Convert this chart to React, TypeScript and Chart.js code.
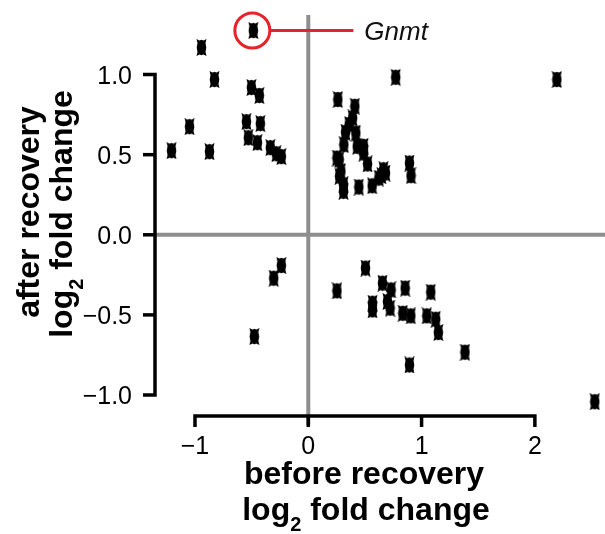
import React, { useEffect, useRef } from "react";
import { Chart, registerables } from "chart.js";

Chart.register(...registerables);

// before recovery log2 fold change (x) and after recovery log2 fold change (y)
const beforeRecovery = [
  -0.485, -0.943, -0.828, -1.048, -1.207, -0.872, -0.502, -0.432, -0.546, -0.423,
  -0.529, -0.449, -0.335, -0.282, -0.238,
  0.772, 0.261, 0.411, 0.391, 0.361, 0.329, 0.42, 0.314, 0.432, 0.488, 0.488,
  0.253, 0.273, 0.288, 0.276, 0.311, 0.311, 0.523, 0.446, 0.564, 0.623, 0.664,
  0.681, 0.646, 0.893, 0.907, 2.194,
  -0.238, -0.305, -0.476,
  0.253, 0.505, 0.655, 0.731, 0.855, 1.081, 0.567, 0.567, 0.699, 0.722, 0.834,
  0.905, 1.046, 1.125, 1.148, 1.383, 0.893, 2.529,
];
const afterRecovery = [
  1.275, 1.169, 0.969, 0.675, 0.525, 0.519, 0.919, 0.869, 0.706, 0.694,
  0.606, 0.575, 0.544, 0.506, 0.488,
  0.983, 0.844, 0.802, 0.729, 0.688, 0.64, 0.635, 0.5625, 0.552, 0.552, 0.51,
  0.479, 0.469, 0.396, 0.365, 0.3125, 0.271, 0.442, 0.298, 0.306, 0.354, 0.406,
  0.385, 0.369, 0.448, 0.369, 0.969,
  -0.192, -0.271, -0.635,
  -0.35, -0.208, -0.302, -0.344, -0.333, -0.358, -0.427, -0.469, -0.417, -0.458, -0.49,
  -0.506, -0.506, -0.527, -0.61, -0.733, -0.8125, -1.042,
];

const xTicks = [-1, 0, 1, 2];
const yTicks = [1.0, 0.5, 0.0, -0.5, -1.0];
const xTickLabels = ["\u22121", "0", "1", "2"];
const yTickLabels = ["1.0", "0.5", "0.0", "\u22120.5", "\u22121.0"];

const gnmtIndex = 0;
const gnmtLabel = "Gnmt";
const xTitle1 = "before recovery";
const yTitle1 = "after recovery";
const logTitle = ["log", "2", " fold change"];

const FONT = '"Liberation Sans", Arial, sans-serif';

function makeMarker(): HTMLCanvasElement {
  const c = document.createElement("canvas");
  c.width = 11;
  c.height = 17;
  const g = c.getContext("2d")!;
  g.fillStyle = "#000";
  g.beginPath();
  const pts = [
    [0.5, 0], [3.5, 1.6], [5.5, 0.8], [7.5, 1.6], [10.5, 0], [9.5, 4], [10.3, 8.5], [9.5, 13],
    [10.5, 17], [7.5, 15.4], [5.5, 16.2], [3.5, 15.4], [0.5, 17], [1.5, 13], [0.7, 8.5], [1.5, 4],
  ];
  pts.forEach(([px, py], i) => (i === 0 ? g.moveTo(px, py) : g.lineTo(px, py)));
  g.closePath();
  g.fill();
  return c;
}

function drawLogLine(ctx: CanvasRenderingContext2D, cx: number, baseline: number) {
  const big = `bold 32px ${FONT}`;
  const small = `bold 20px ${FONT}`;
  ctx.font = big;
  const w0 = ctx.measureText(logTitle[0]).width;
  const w2 = ctx.measureText(logTitle[2]).width;
  ctx.font = small;
  const w1 = ctx.measureText(logTitle[1]).width;
  let x = cx - (w0 + w1 + w2) / 2;
  ctx.textAlign = "left";
  ctx.textBaseline = "alphabetic";
  ctx.font = big;
  ctx.fillText(logTitle[0], x, baseline);
  x += w0;
  ctx.font = small;
  ctx.fillText(logTitle[1], x, baseline + 11);
  x += w1;
  ctx.font = big;
  ctx.fillText(logTitle[2], x, baseline);
}

const customPlugin = {
  id: "customAxes",
  beforeDatasetsDraw(chart: any) {
    const { ctx, chartArea } = chart;
    const xs = chart.scales.x;
    const ys = chart.scales.y;
    const x0 = xs.getPixelForValue(0);
    const y0 = ys.getPixelForValue(0);
    ctx.save();
    ctx.strokeStyle = "#8e8e8e";
    ctx.lineWidth = 4;
    ctx.beginPath();
    ctx.moveTo(x0, chartArea.top + 1);
    ctx.lineTo(x0, chartArea.bottom + 9);
    ctx.stroke();
    ctx.beginPath();
    ctx.moveTo(chartArea.left, y0);
    ctx.lineTo(chartArea.right, y0);
    ctx.stroke();
    ctx.restore();
  },
  afterDraw(chart: any) {
    const { ctx, chartArea } = chart;
    const xs = chart.scales.x;
    const ys = chart.scales.y;
    ctx.save();
    ctx.strokeStyle = "#000";
    ctx.fillStyle = "#000";
    ctx.lineWidth = 3.5;
    ctx.lineJoin = "miter";
    ctx.lineCap = "butt";

    // y axis
    const ax = chartArea.left;
    const yTop = ys.getPixelForValue(yTicks[0]);
    const yBot = ys.getPixelForValue(yTicks[yTicks.length - 1]);
    ctx.beginPath();
    ctx.moveTo(ax - 12, yTop);
    ctx.lineTo(ax, yTop);
    ctx.lineTo(ax, yBot);
    ctx.lineTo(ax - 12, yBot);
    ctx.stroke();
    yTicks.slice(1, -1).forEach((v) => {
      const p = ys.getPixelForValue(v);
      ctx.beginPath();
      ctx.moveTo(ax - 12, p);
      ctx.lineTo(ax, p);
      ctx.stroke();
    });

    // x axis
    const ay = chartArea.bottom;
    const xL = xs.getPixelForValue(xTicks[0]);
    const xR = xs.getPixelForValue(xTicks[xTicks.length - 1]);
    ctx.beginPath();
    ctx.moveTo(xL, ay + 11);
    ctx.lineTo(xL, ay);
    ctx.lineTo(xR, ay);
    ctx.lineTo(xR, ay + 11);
    ctx.stroke();
    xTicks.slice(1, -1).forEach((v) => {
      const p = xs.getPixelForValue(v);
      ctx.beginPath();
      ctx.moveTo(p, ay);
      ctx.lineTo(p, ay + 11);
      ctx.stroke();
    });

    // tick labels
    ctx.font = `25px ${FONT}`;
    ctx.textBaseline = "alphabetic";
    ctx.textAlign = "right";
    yTicks.forEach((v, i) => {
      ctx.fillText(yTickLabels[i], ax - 23, ys.getPixelForValue(v) + 9);
    });
    ctx.textAlign = "center";
    xTicks.forEach((v, i) => {
      ctx.fillText(xTickLabels[i], xs.getPixelForValue(v), ay + 38);
    });

    // x title
    ctx.font = `bold 32px ${FONT}`;
    ctx.textAlign = "center";
    ctx.fillText(xTitle1, 364, ay + 68);
    drawLogLine(ctx, 366, ay + 104);

    // y title
    ctx.save();
    ctx.translate(39, 212);
    ctx.rotate(-Math.PI / 2);
    ctx.font = `bold 32px ${FONT}`;
    ctx.textAlign = "center";
    ctx.fillText(yTitle1, 0, 0);
    ctx.restore();
    ctx.save();
    ctx.translate(72, 214);
    ctx.rotate(-Math.PI / 2);
    drawLogLine(ctx, 0, 0);
    ctx.restore();

    // Gnmt annotation
    const gx = xs.getPixelForValue(beforeRecovery[gnmtIndex]);
    const gy = ys.getPixelForValue(afterRecovery[gnmtIndex]);
    ctx.strokeStyle = "#e62329";
    ctx.lineWidth = 3;
    ctx.beginPath();
    ctx.arc(gx - 1, gy, 17.5, 0, Math.PI * 2);
    ctx.stroke();
    ctx.beginPath();
    ctx.moveTo(gx + 17, gy);
    ctx.lineTo(gx + 100, gy);
    ctx.stroke();
    ctx.fillStyle = "#111";
    ctx.font = `italic 26px ${FONT}`;
    ctx.textAlign = "left";
    ctx.fillText(gnmtLabel, gx + 111, gy + 9);
    ctx.restore();
  },
};

export default function App() {
  const ref = useRef<HTMLCanvasElement>(null);
  useEffect(() => {
    if (!ref.current) return;
    const marker = makeMarker();
    const chart = new Chart(ref.current, {
      type: "scatter",
      data: {
        datasets: [
          {
            data: beforeRecovery.map((x, i) => ({ x, y: afterRecovery[i] })),
            pointStyle: marker as any,
            pointRadius: 6,
            backgroundColor: "#000",
            borderColor: "#000",
            clip: false as any,
          },
        ],
      },
      options: {
        animation: false,
        responsive: false,
        devicePixelRatio: 1,
        layout: { autoPadding: false, padding: { left: 155, right: 0, top: 14, bottom: 118 } },
        plugins: { legend: { display: false }, tooltip: { enabled: false } },
        scales: {
          x: { type: "linear", min: -1.353, max: 2.619, display: false },
          y: { type: "linear", min: -1.131, max: 1.378, display: false },
        },
      },
      plugins: [customPlugin],
    });
    return () => chart.destroy();
  }, []);
  return (
    <div style={{ position: "fixed", left: 0, top: 0, width: 605, height: 534, background: "#fff" }}>
      <canvas ref={ref} width={605} height={534} style={{ width: 605, height: 534, display: "block" }} />
    </div>
  );
}
